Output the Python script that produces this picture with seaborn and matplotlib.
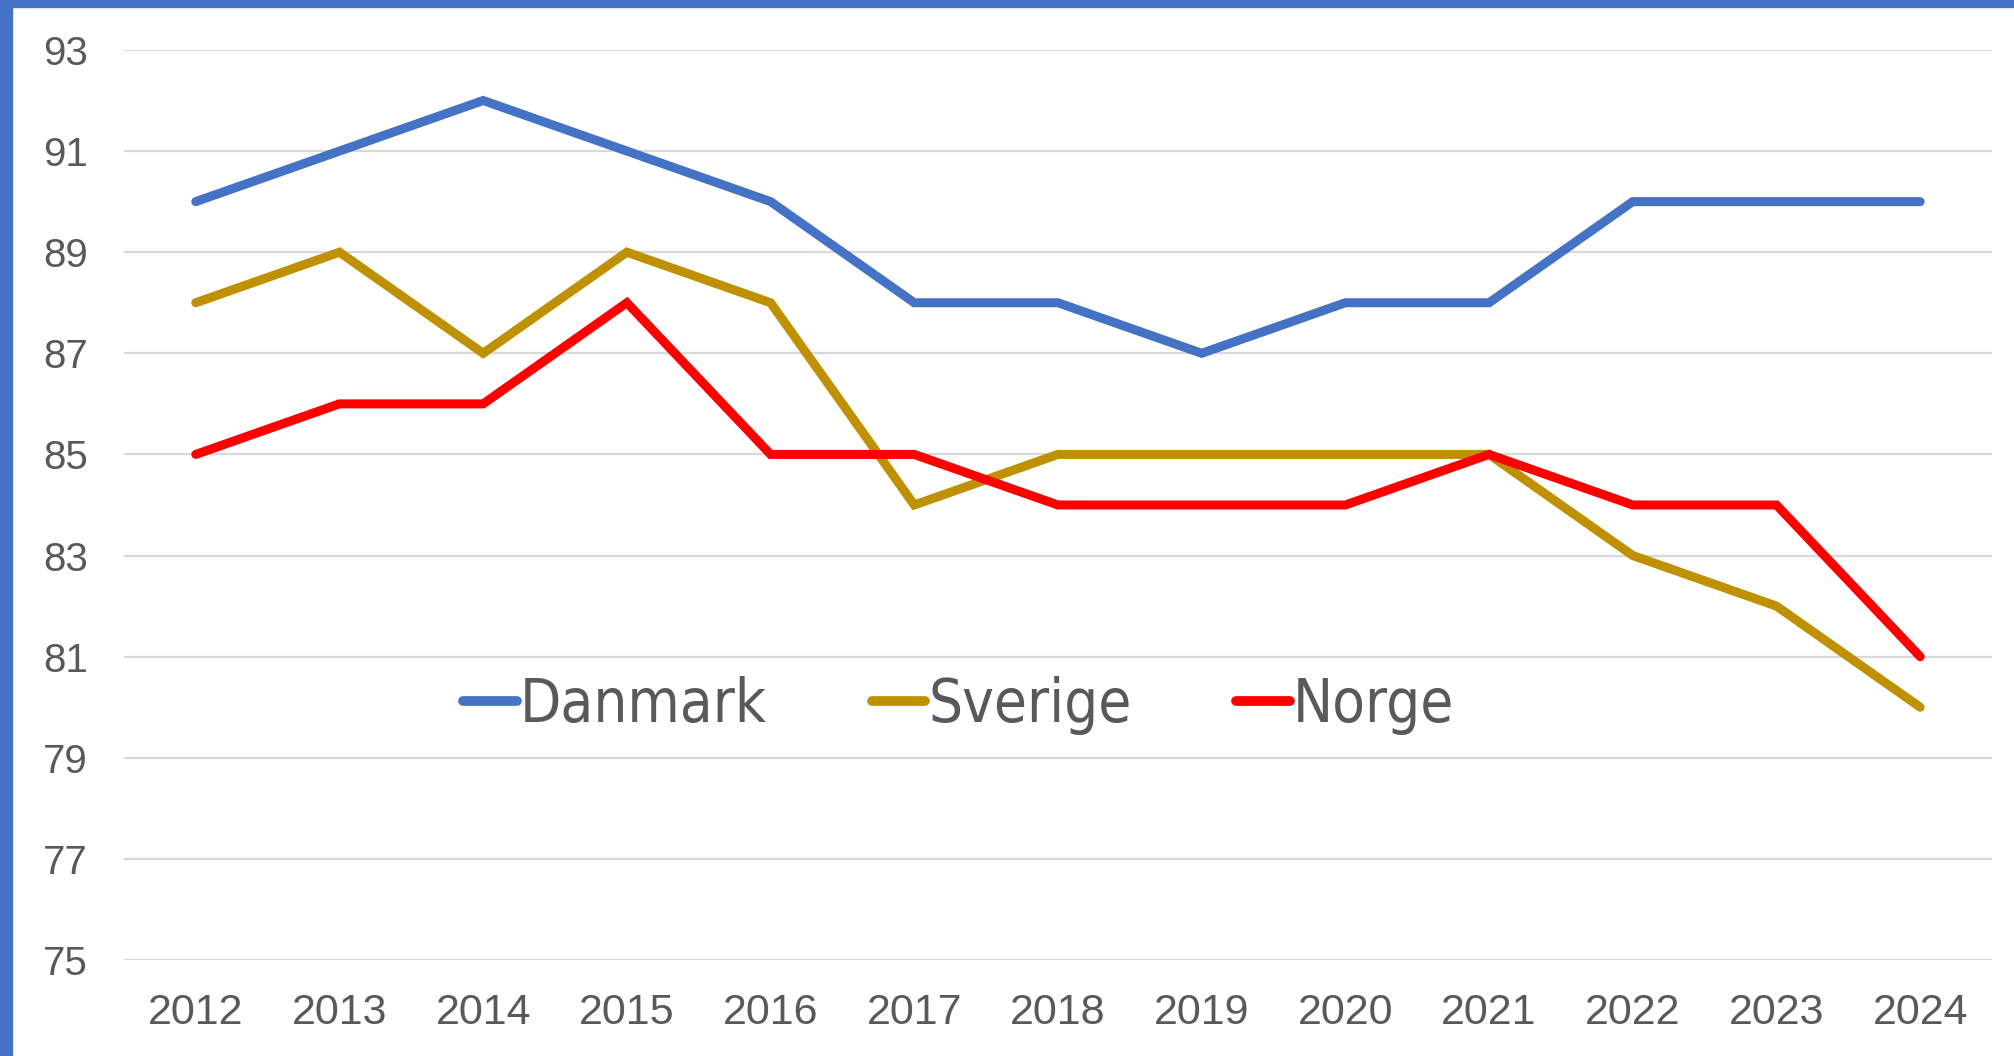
import pandas as pd
import matplotlib.pyplot as plt
import seaborn as sns
from matplotlib.patches import Rectangle

# data
years = [2012, 2013, 2014, 2015, 2016, 2017, 2018, 2019, 2020, 2021, 2022, 2023, 2024]
danmark = [90, 91, 92, 91, 90, 88, 88, 87, 88, 88, 90, 90, 90]
sverige = [88, 89, 87, 89, 88, 84, 85, 85, 85, 85, 83, 82, 80]
norge = [85, 86, 86, 88, 85, 85, 84, 84, 84, 85, 84, 84, 81]
countries = ['Danmark', 'Sverige', 'Norge']
colors = ['#4472C4', '#BF9000', '#FF0000']
yticks = [75, 77, 79, 81, 83, 85, 87, 89, 91, 93]

df = pd.DataFrame({'Year': [str(y) for y in years] * 3,
                   'Value': danmark + sverige + norge,
                   'Country': [c for c in countries for _ in years]})

sns.set_style('white')
plt.rcParams['font.family'] = ['Liberation Sans', 'DejaVu Sans']

fig = plt.figure(figsize=(20.15, 10.56), dpi=100)
ax = fig.add_axes([0.0615, 0.0909, 0.9271, 0.8618])

sns.lineplot(data=df, x='Year', y='Value', hue='Country', palette=colors,
             linewidth=6.5, ax=ax, sort=False)
for ln in ax.lines:
    ln.set_solid_capstyle('round')
    ln.set_solid_joinstyle('miter')

ax.set_xlim(-0.5, 12.5)
ax.set_ylim(75, 93)
ax.set_yticks(yticks)
ax.grid(axis='y', color='#D9D9D9', linewidth=1.6)
ax.set_axisbelow(True)
for s in ax.spines.values():
    s.set_visible(False)
ax.set_xlabel('')
ax.set_ylabel('')
ax.tick_params(axis='both', length=0, colors='#595959')
ax.tick_params(axis='y', pad=26, labelsize=29)
ax.tick_params(axis='x', pad=24, labelsize=31)

leg = ax.legend(loc='center', bbox_to_anchor=(0.447, 0.28), ncol=3, frameon=False,
                handlelength=0.9, handletextpad=0.05, columnspacing=1.75,
                prop={'family': 'DejaVu Sans', 'stretch': 'condensed', 'size': 43})
for t in leg.get_texts():
    t.set_color('#595959')
for h in leg.legend_handles:
    h.set_linewidth(7)

# blue frame at left and top
fig.patches.append(Rectangle((0, 0), 12 / 2015, 1, transform=fig.transFigure,
                             color='#4472C4', zorder=10))
fig.patches.append(Rectangle((0, 1 - 7 / 1056), 1, 7 / 1056, transform=fig.transFigure,
                             color='#4472C4', zorder=10))

fig.savefig('out.png', dpi=100)
